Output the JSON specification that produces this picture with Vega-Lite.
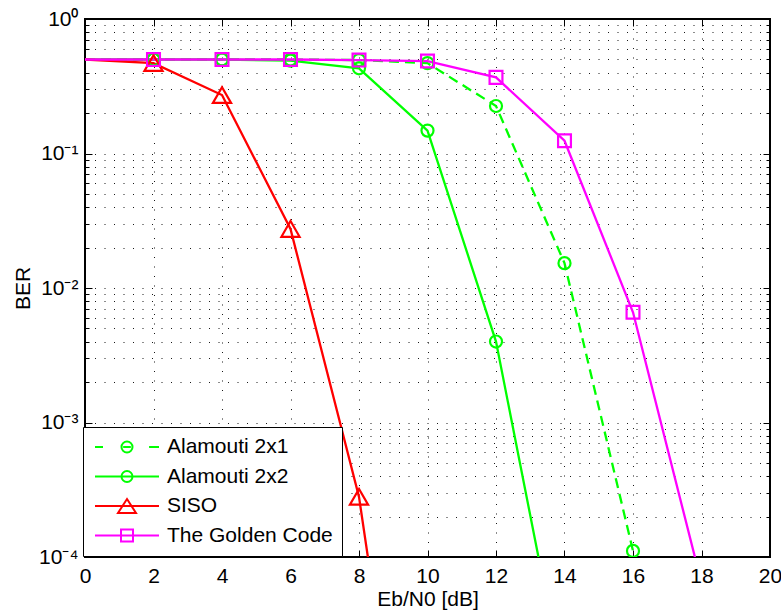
{
  "$schema": "https://vega.github.io/schema/vega-lite/v6.json",
  "width": 685,
  "height": 538,
  "autosize": {"type": "none"},
  "padding": {"left": 85, "top": 19, "right": 11, "bottom": 57},
  "background": "white",
  "config": {
    "font": "Liberation Sans",
    "view": {"stroke": "black", "strokeWidth": 2},
    "axis": {
      "labelFont": "Liberation Sans",
      "titleFont": "Liberation Sans",
      "labelFontSize": 21,
      "titleFontSize": 21,
      "labelColor": "black",
      "titleColor": "black",
      "titleFontWeight": "normal",
      "tickColor": "black",
      "tickWidth": 1,
      "domain": false,
      "labelFlush": false,
      "labelOverlap": false,
      "gridColor": "black",
      "gridWidth": 1,
      "gridOpacity": 0.9,
      "gridDash": [1, 8.5]
    }
  },
  "datasets": {
    "ber": [
      {"series": "Alamouti 2x1", "snr": 0, "ber": 0.5},
      {"series": "Alamouti 2x1", "snr": 2, "ber": 0.5},
      {"series": "Alamouti 2x1", "snr": 4, "ber": 0.5},
      {"series": "Alamouti 2x1", "snr": 6, "ber": 0.5},
      {"series": "Alamouti 2x1", "snr": 8, "ber": 0.495},
      {"series": "Alamouti 2x1", "snr": 10, "ber": 0.47},
      {"series": "Alamouti 2x1", "snr": 12, "ber": 0.2255},
      {"series": "Alamouti 2x1", "snr": 14, "ber": 0.0153},
      {"series": "Alamouti 2x1", "snr": 16, "ber": 0.000111},
      {"series": "Alamouti 2x2", "snr": 0, "ber": 0.5},
      {"series": "Alamouti 2x2", "snr": 2, "ber": 0.5},
      {"series": "Alamouti 2x2", "snr": 4, "ber": 0.5},
      {"series": "Alamouti 2x2", "snr": 6, "ber": 0.49},
      {"series": "Alamouti 2x2", "snr": 8, "ber": 0.43},
      {"series": "Alamouti 2x2", "snr": 10, "ber": 0.148},
      {"series": "Alamouti 2x2", "snr": 12, "ber": 0.004},
      {"series": "Alamouti 2x2", "snr": 14, "ber": 0.0000104},
      {"series": "SISO", "snr": 0, "ber": 0.5},
      {"series": "SISO", "snr": 2, "ber": 0.47},
      {"series": "SISO", "snr": 4, "ber": 0.272},
      {"series": "SISO", "snr": 6, "ber": 0.0275},
      {"series": "SISO", "snr": 8, "ber": 0.00028},
      {"series": "SISO", "snr": 10, "ber": 0.0000001},
      {"series": "The Golden Code", "snr": 0, "ber": 0.5},
      {"series": "The Golden Code", "snr": 2, "ber": 0.5},
      {"series": "The Golden Code", "snr": 4, "ber": 0.5},
      {"series": "The Golden Code", "snr": 6, "ber": 0.5},
      {"series": "The Golden Code", "snr": 8, "ber": 0.495},
      {"series": "The Golden Code", "snr": 10, "ber": 0.487},
      {"series": "The Golden Code", "snr": 12, "ber": 0.368},
      {"series": "The Golden Code", "snr": 14, "ber": 0.1245},
      {"series": "The Golden Code", "snr": 16, "ber": 0.0066},
      {"series": "The Golden Code", "snr": 18, "ber": 0.000064}
    ]
  },
  "data": {"name": "ber"},
  "resolve": {"axis": {"x": "independent", "y": "independent"}},
  "layer": [
    {
      "transform": [{"filter": "false"}],
      "mark": {"type": "point", "filled": false, "strokeWidth": 2},
      "encoding": {
        "x": {"field": "snr", "type": "quantitative", "scale": {"domain": [0, 20], "nice": false, "zero": false}, "axis": null},
        "y": {"field": "ber", "type": "quantitative", "scale": {"type": "log", "domain": [0.0001, 1], "nice": false}, "axis": null},
        "color": {
          "field": "series",
          "type": "nominal",
          "scale": {
            "domain": ["Alamouti 2x1", "Alamouti 2x2", "SISO", "The Golden Code"],
            "range": ["#00ff00", "#00ff00", "#ff0000", "#ff00ff"]
          },
          "legend": {
            "title": null,
            "orient": "none",
            "legendX": -2,
            "legendY": 408,
            "zindex": 1,
            "padding": 9,
            "fillColor": "white",
            "strokeColor": "black",
            "labelFont": "Liberation Sans",
            "labelFontSize": 21,
            "labelColor": "black",
            "labelLimit": 400,
            "symbolSize": 4096,
            "symbolStrokeWidth": 2,
            "symbolOpacity": 1,
            "symbolOffset": 2,
            "labelOffset": 7,
            "clipHeight": 22,
            "rowPadding": 7.5
          }
        },
        "shape": {
          "field": "series",
          "type": "nominal",
          "scale": {
            "domain": ["Alamouti 2x1", "Alamouti 2x2", "SISO", "The Golden Code"],
            "range": [
              "M-1,0H-0.75M0.69,0H1M-0.12,0H0.12M0.172,0A0.172,0.172 0 1 1 -0.172,0A0.172,0.172 0 1 1 0.172,0",
              "M-1,0H1M0.172,0A0.172,0.172 0 1 1 -0.172,0A0.172,0.172 0 1 1 0.172,0",
              "M-1,0H1M0,-0.219L0.281,0.219L-0.281,0.219Z",
              "M-1,0H1M-0.1875,-0.1875H0.1875V0.1875H-0.1875Z"
            ]
          }
        }
      }
    },
    {
      "transform": [{"filter": "datum.series === 'Alamouti 2x1'"}],
      "mark": {"type": "line", "clip": true, "strokeWidth": 2.3, "color": "#00ff00", "strokeDash": [10, 6]},
      "encoding": {
        "x": {
          "field": "snr",
          "type": "quantitative",
          "axis": {
            "title": "Eb/N0 [dB]",
            "values": [0, 2, 4, 6, 8, 10, 12, 14, 16, 18, 20],
            "format": "d",
            "tickSize": -7,
            "labelPadding": 15,
            "titlePadding": 2,
            "grid": true
          }
        },
        "y": {
          "field": "ber",
          "type": "quantitative",
          "axis": {
            "title": "BER",
            "values": [0.0001, 0.0002, 0.0003, 0.0004, 0.0005, 0.0006, 0.0007, 0.0008, 0.0009,
                       0.001, 0.002, 0.003, 0.004, 0.005, 0.006, 0.007, 0.008, 0.009,
                       0.01, 0.02, 0.03, 0.04, 0.05, 0.06, 0.07, 0.08, 0.09,
                       0.1, 0.2, 0.3, 0.4, 0.5, 0.6, 0.7, 0.8, 0.9, 1],
            "labelExpr": "abs(datum.value / pow(10, round(log(datum.value) / LN10)) - 1) < 1e-6 ? ['10⁰', '10⁻¹', '10⁻²', '10⁻³', '10⁻⁴'][-round(log(datum.value) / LN10)] : ''",
            "tickSize": -4,
            "labelPadding": 11,
            "titlePadding": 5,
            "grid": true
          }
        }
      }
    },
    {
      "transform": [{"filter": "datum.series === 'Alamouti 2x2'"}],
      "mark": {"type": "line", "clip": true, "strokeWidth": 2.3, "color": "#00ff00"},
      "encoding": {
        "x": {"field": "snr", "type": "quantitative", "axis": null},
        "y": {"field": "ber", "type": "quantitative", "axis": null}
      }
    },
    {
      "transform": [{"filter": "datum.series === 'SISO'"}],
      "mark": {"type": "line", "clip": true, "strokeWidth": 2.3, "color": "#ff0000"},
      "encoding": {
        "x": {"field": "snr", "type": "quantitative", "axis": null},
        "y": {"field": "ber", "type": "quantitative", "axis": null}
      }
    },
    {
      "transform": [{"filter": "datum.series === 'The Golden Code'"}],
      "mark": {"type": "line", "clip": true, "strokeWidth": 2.3, "color": "#ff00ff"},
      "encoding": {
        "x": {"field": "snr", "type": "quantitative", "axis": null},
        "y": {"field": "ber", "type": "quantitative", "axis": null}
      }
    },
    {
      "transform": [{"filter": "(datum.series === 'Alamouti 2x1' || datum.series === 'Alamouti 2x2') && datum.snr > 0"}],
      "mark": {"type": "point", "shape": "circle", "size": 145, "clip": true, "filled": false, "strokeWidth": 2.2, "color": "#00ff00", "opacity": 1},
      "encoding": {
        "x": {"field": "snr", "type": "quantitative", "axis": null},
        "y": {"field": "ber", "type": "quantitative", "axis": null}
      }
    },
    {
      "transform": [{"filter": "datum.series === 'SISO' && datum.snr > 0"}],
      "mark": {"type": "point", "shape": "triangle-up", "size": 330, "clip": true, "filled": false, "strokeWidth": 2.2, "color": "#ff0000", "opacity": 1},
      "encoding": {
        "x": {"field": "snr", "type": "quantitative", "axis": null},
        "y": {"field": "ber", "type": "quantitative", "axis": null}
      }
    },
    {
      "transform": [{"filter": "datum.series === 'The Golden Code' && datum.snr > 0"}],
      "mark": {"type": "point", "shape": "square", "size": 165, "clip": true, "filled": false, "strokeWidth": 2.2, "color": "#ff00ff", "opacity": 1},
      "encoding": {
        "x": {"field": "snr", "type": "quantitative", "axis": null},
        "y": {"field": "ber", "type": "quantitative", "axis": null}
      }
    },
    {
      "mark": {"type": "point", "opacity": 0, "clip": true},
      "encoding": {
        "x": {
          "field": "snr",
          "type": "quantitative",
          "axis": {"orient": "top", "values": [0, 2, 4, 6, 8, 10, 12, 14, 16, 18, 20], "tickSize": -7, "labels": false, "grid": false, "title": null}
        },
        "y": {
          "field": "ber",
          "type": "quantitative",
          "axis": {"orient": "left", "values": [0.0001, 0.001, 0.01, 0.1, 1], "tickSize": -7, "labels": false, "grid": false, "title": null}
        }
      }
    },
    {
      "mark": {"type": "point", "opacity": 0, "clip": true},
      "encoding": {
        "x": {"field": "snr", "type": "quantitative", "axis": null},
        "y": {
          "field": "ber",
          "type": "quantitative",
          "axis": {"orient": "right",
                   "values": [0.0001, 0.0002, 0.0003, 0.0004, 0.0005, 0.0006, 0.0007, 0.0008, 0.0009,
                              0.001, 0.002, 0.003, 0.004, 0.005, 0.006, 0.007, 0.008, 0.009,
                              0.01, 0.02, 0.03, 0.04, 0.05, 0.06, 0.07, 0.08, 0.09,
                              0.1, 0.2, 0.3, 0.4, 0.5, 0.6, 0.7, 0.8, 0.9, 1],
                   "tickSize": -4, "labels": false, "grid": false, "title": null}
        }
      }
    },
    {
      "mark": {"type": "point", "opacity": 0, "clip": true},
      "encoding": {
        "x": {"field": "snr", "type": "quantitative", "axis": null},
        "y": {
          "field": "ber",
          "type": "quantitative",
          "axis": {"orient": "right", "values": [0.0001, 0.001, 0.01, 0.1, 1], "tickSize": -7, "labels": false, "grid": false, "title": null}
        }
      }
    }
  ]
}
